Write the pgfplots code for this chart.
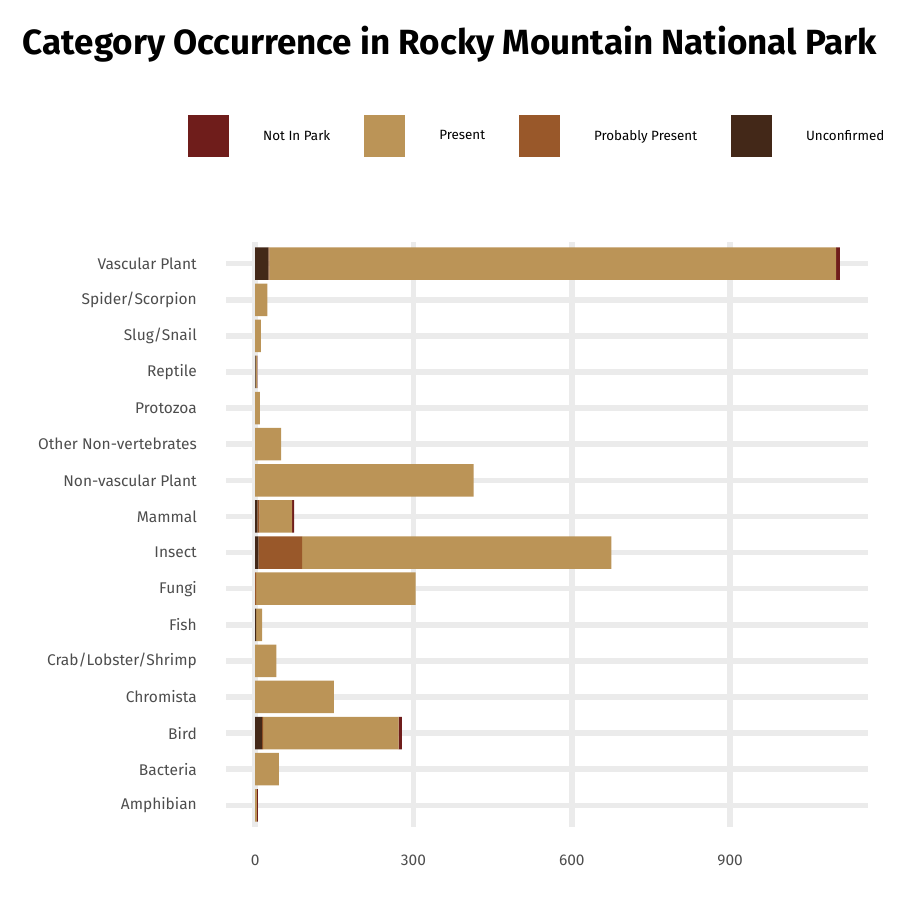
\documentclass[border=0pt]{standalone}
\usepackage{fontspec}
\setmainfont{Fira Sans}
\usepackage{pgfplots}
\pgfplotsset{compat=1.18}
\usepackage{pgfplotstable}
\definecolor{nip}{HTML}{6F1D1B}
\definecolor{pres}{HTML}{BB9457}
\definecolor{prob}{HTML}{99582A}
\definecolor{unc}{HTML}{432818}
\definecolor{gridc}{HTML}{EBEBEB}
\definecolor{tickc}{HTML}{4D4D4D}
\pgfplotstableread{
idx unc prob pres nip
0 0 0 3 2
1 0 0 45 0
2 13 2 257 6
3 0 0 149 0
4 0 0 40 0
5 2 0 11 0
6 0 2 302 0
7 6 83 586 0
8 4 4 62 4
9 0 0 414 0
10 0 0 49 0
11 0 0 9 0
12 1 0 2 1
13 0 0 11 0
14 0 0 23 0
15 25 2 1074 7
}\datatable
\begin{document}
\begin{tikzpicture}[x=1pt,y=1pt]
\path (0,0) rectangle (900,900);
\begin{axis}[
  anchor=south west, at={(226pt,73pt)},
  scale only axis, width=642pt, height=585pt,
  xbar stacked, bar width=0.9,
  xmin=-55.3, xmax=1161.3, ymin=-0.6, ymax=15.6,
  xtick={0,300,600,900},
  ytick={0,...,15},
  yticklabels={Amphibian,Bacteria,Bird,Chromista,Crab/Lobster/Shrimp,Fish,Fungi,Insect,Mammal,Non-vascular Plant,Other Non-vertebrates,Protozoa,Reptile,Slug/Snail,Spider/Scorpion,Vascular Plant},
  /pgf/number format/assume math mode=true,
  axis line style={draw=none}, tick style={draw=none},
  xmajorgrids, ymajorgrids,
  major grid style={line width=5.5pt, gridc},
  yticklabel style={font=\fontsize{15.5}{18}\selectfont, text=tickc, anchor=east, inner sep=0pt, xshift=-29pt},
  xticklabel style={font=\fontsize{15.5}{18}\selectfont, text=tickc, anchor=north, inner sep=0pt, yshift=-28pt},
  title={\fontsize{35}{40}\selectfont\bfseries Category Occurrence in Rocky Mountain National Park},
  title style={at={(rel axis cs:0.349,1.3094)}, anchor=base, inner sep=0pt},
  legend columns=4,
  legend style={at={(rel axis cs:-0.0592,1.1812)}, anchor=west, draw=none, fill=none, inner sep=0pt,
    font=\fontsize{13.4}{15}\selectfont, column sep=34pt,
    /tikz/every even column/.append style={column sep=34pt},
    nodes={inner sep=0pt, anchor=west}},
  legend image code/.code={\fill[#1, draw=none] (0pt,-21pt) rectangle (41pt,21pt);},
]
\addlegendimage{fill=nip, draw=none}
\addlegendentry{Not In Park}
\addlegendimage{fill=pres, draw=none}
\addlegendentry{Present}
\addlegendimage{fill=prob, draw=none}
\addlegendentry{Probably Present}
\addlegendimage{fill=unc, draw=none}
\addlegendentry{Unconfirmed}
\addplot[fill=unc, draw=none, forget plot] table[x=unc, y=idx] {\datatable};
\addplot[fill=prob, draw=none, forget plot] table[x=prob, y=idx] {\datatable};
\addplot[fill=pres, draw=none, forget plot] table[x=pres, y=idx] {\datatable};
\addplot[fill=nip, draw=none, forget plot] table[x=nip, y=idx] {\datatable};
\end{axis}
\end{tikzpicture}
\end{document}
